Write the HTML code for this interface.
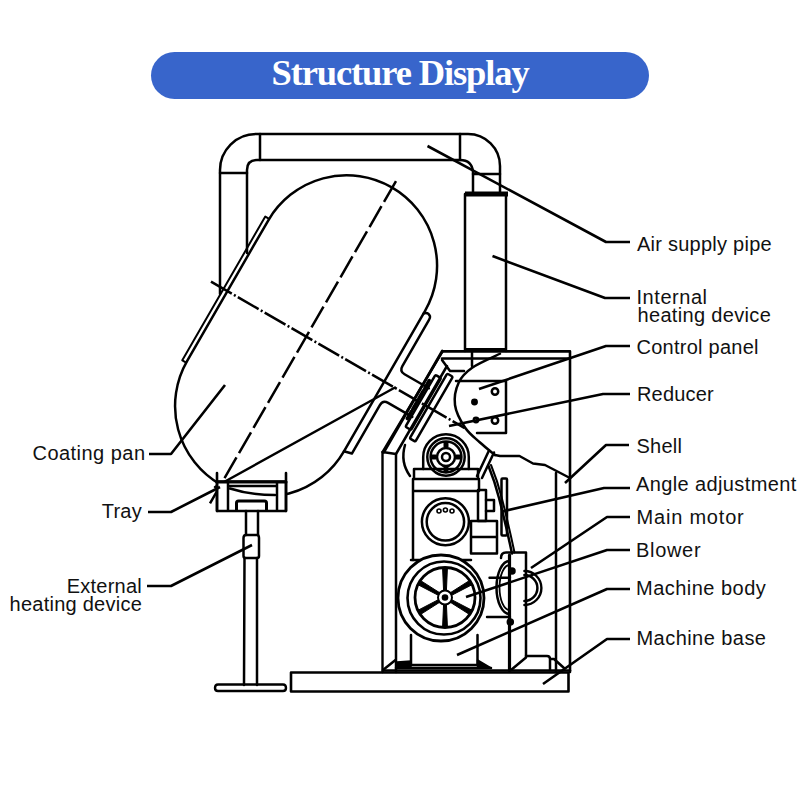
<!DOCTYPE html>
<html><head><meta charset="utf-8">
<style>
html,body{margin:0;padding:0;background:#fff;}
body{width:800px;height:800px;position:relative;overflow:hidden;}
.banner{position:absolute;left:151px;top:52px;width:498px;height:47px;border-radius:23.5px;background:#3865cb;}
.title{position:absolute;left:0;top:48.5px;width:800px;height:47px;line-height:47px;text-align:center;color:#fff;font-family:"Liberation Serif",serif;font-weight:bold;font-size:36.5px;letter-spacing:-1.12px;}
svg{position:absolute;left:0;top:0;}
</style></head>
<body>
<div class="banner"></div>
<div class="title">Structure Display</div>
<svg width="800" height="800" viewBox="0 0 800 800">
<g id="draw" stroke="#000" stroke-width="2.5" fill="none" stroke-linejoin="round" stroke-linecap="round">
<!-- air pipe frame -->
<path d="M220,294 L220,170 A36,36 0 0 1 256,134 L468,134 A32,32 0 0 1 500,166 L500,193"/>
<path d="M247,253 L247,170 Q247,160 257,160 L460,160 Q472,160 473,172 L473,193"/>
<path d="M260,134 L260,160 M460,134 L460,160 M220,173 L247,173 M473,174 L500,174"/>
<!-- heater tube -->
<path d="M465,194 L465,351 M506,194 L506,351"/>
<path d="M465,194 L508,194" stroke-width="5" stroke-linecap="butt"/>
<path d="M464,350 L507,350" stroke-width="4" stroke-linecap="butt"/>
<!-- coating pan (local rotated frame) -->
<g transform="translate(347,266) rotate(30)">
<path d="M-91,162 L-91,0 A90.5,90.5 0 0 1 90,0 L90,162 A90.5,90.5 0 0 1 -91,162"/>
<path d="M-92,-2 L-95.5,-2 L-95.5,164 L-92,164" stroke-width="2"/>
<path d="M90,3 Q93,-1 97,2 Q98,3 98,6 L98,59 Q98,65 104,65 L132,65"/>
<path d="M132,98 L104,98 Q98,98 98,104 L98,160 L90,162"/>
<path d="M0,-98 L0,275" stroke-dasharray="24,5" stroke-linecap="butt"/>
<path d="M-110,81.5 L183,81.5" stroke-dasharray="24,2.5,2,2.5" stroke-linecap="butt"/>
</g>
<!-- long line pan bottom to T -->
<path d="M215,487 L395,387.5"/>
<!-- tray -->
<path d="M217,481.5 L286,481.5 L286,511 L217,511 Z" fill="#fff"/>
<path d="M217,473 L217,511 M286,473 L286,511" stroke-width="2.6"/>
<path d="M217,482 L286,482" stroke-width="3"/>
<path d="M228,483 L228,510 M277,483 L277,510 M228,486 L277,486"/>
<path d="M230,488.5 Q250,495 275,495"/>
<path d="M236.5,510 L236.5,503 Q236.5,501 238.5,501 L264.5,501 Q266.5,501 266.5,503 L266.5,510" stroke-width="3"/>
<!-- stand -->
<path d="M246,511 L246,535 M258,511 L258,535"/>
<path d="M246,535 Q243.5,535 243.5,538 L243.5,556 Q243.5,558 246,558 L257,558 Q259,558 259,556 L259,538 Q259,535 257,535 Z"/>
<path d="M244.5,558 L244,685 M257,558 L257,685"/>
<path d="M218,684.5 L283,684.5 Q286,684.5 286,688 Q286,691 283,691 L218,691 Q215,691 215,688 Q215,684.5 218,684.5 Z" stroke-width="2.4"/>
<!-- base -->
<path d="M291,672.5 L568.5,672.5 L568.5,691.5 L291,691.5 Z" stroke-width="2.6"/>
<!-- shell -->
<path d="M442.6,351.4 L570,351.4 L570,672" stroke-width="2.6"/>
<path d="M442.6,351.4 L382.5,452 L382.5,672" stroke-width="2.4"/>
<path d="M383,670 L395.5,660"/>
<path d="M447,366 L396,454 L396,672"/>
<path d="M382.5,452 L396,454"/>
<path d="M442,358.5 L570,358.5"/>
<path d="M472,352 L472,366"/>
<path d="M442,360 L450,371 L464,371"/>
<path d="M556,473 L556,672"/>
<!-- machine internals -->
<g transform="translate(347,266) rotate(30)">
<path d="M125,26 L125,143" stroke-width="2.8"/>
<path d="M128.5,58 L128.5,102" stroke-width="3.5" stroke-dasharray="9,3"/>
<rect x="131" y="50" width="6.5" height="60" rx="1.5"/>
<rect x="140.5" y="43" width="6.5" height="75" rx="1.5"/>
</g>
<!-- reducer housing -->
<path d="M500,353.75 C495.4,356.0 479.4,362.7 472.5,367.5 C465.6,372.3 461.7,376.2 458.75,382.5 C455.8,388.8 454.0,397.5 455,405 C456.0,412.5 460.8,421.2 465,427.5 C469.2,433.8 475.0,437.9 480,442.5 C485.0,447.1 492.5,452.9 495,455"/>
<path d="M456,381 L506,381 L506,433 L477,433"/>
<circle cx="495" cy="391.5" r="3.2"/>
<circle cx="495" cy="420.5" r="3.2"/>
<circle cx="474.5" cy="402" r="2.2" fill="#000"/>
<circle cx="476" cy="420" r="2.2"/>
<path d="M495,455 L500,456 L519.5,456 L533,463.5 L545,465 L569,477.5"/>
<!-- worm gear -->
<path d="M405,445 Q400,462 410,476"/>
<path d="M423.2,469 L423.2,457 A22.8,22.8 0 0 1 468.8,457 L468.8,469"/>
<path d="M414,469 L478,469 L478,479 L414,479 Z"/>
<circle cx="446" cy="457" r="18.7"/>
<circle cx="446" cy="457" r="15.4"/>
<circle cx="446" cy="457" r="9"/>
<circle cx="446" cy="457" r="4"/>
<path d="M455.5,457.0 L461.0,457.0 M446.0,466.5 L446.0,472.0 M436.5,457.0 L431.0,457.0 M446.0,447.5 L446.0,442.0" stroke-width="5" stroke-linecap="butt"/>
<!-- motor -->
<path d="M413,479 L413,560 M479,479 L479,491 M413,491 L479,491"/>
<circle cx="445.4" cy="521.8" r="23.5"/>
<circle cx="445.4" cy="521.8" r="18.7"/>
<circle cx="439" cy="511" r="2" stroke-width="1.6"/>
<circle cx="445.4" cy="510" r="2" stroke-width="1.6"/>
<circle cx="452" cy="511" r="2" stroke-width="1.6"/>
<path d="M478,490 L486,490 L486,521 L478,521 Z"/>
<path d="M486,500 L494,500 L494,511 L486,511"/>
<rect x="501.5" y="478.5" width="5.5" height="57" rx="1"/>
<path d="M471,521 L497,521 L497,553.5 L471,553.5 Z M471,537 L497,537"/>
<path d="M488.5,466 Q495,482 499,498 Q506,525 512,553.5"/>
<path d="M491,465 Q497.5,481 501.5,497 Q508.5,524 514.5,552.5" stroke-width="2"/>
<path d="M489,450.5 L477,476 M494,452.5 L482,478"/>
<!-- motor upper lines -->
<path d="M411,560 L471,560 M413,570 L470,570"/>
<!-- blower wheel -->
<circle cx="441" cy="598" r="43" stroke-width="2.8" fill="#fff"/>
<circle cx="444" cy="598" r="36.5" stroke-width="2.6"/>
<circle cx="445" cy="597.5" r="30" stroke-width="2.8"/>
<path d="M446.4,591.0 L447.4,568.5 L442.6,568.5 L443.6,591.0 Z M451.3,595.5 L471.3,585.1 L468.9,580.9 L449.9,593.0 Z M449.9,602.0 L468.9,614.1 L471.3,609.9 L451.3,599.5 Z M443.6,604.0 L442.6,626.5 L447.4,626.5 L446.4,604.0 Z M438.7,599.5 L418.7,609.9 L421.1,614.1 L440.1,602.0 Z M440.1,593.0 L421.1,580.9 L418.7,585.1 L438.7,595.5 Z" fill="#000" stroke-width="1"/>
<circle cx="445" cy="597.5" r="7" stroke-width="2" fill="#fff"/>
<circle cx="445" cy="597.5" r="3.3" fill="#000" stroke="none"/>
<!-- motor lower block and feet -->
<path d="M411,635 L411,665 M477.5,635 L477.5,665 M411,665 L477.5,665"/>
<path d="M397,668 L397,662 L411,661 L411,668 Z M477.5,660 L491,668 L477.5,668 Z" fill="#000" stroke-width="1.5"/><path d="M396,668 L491,668"/>
<!-- right plate and blower housing -->
<path d="M524.4,571 A17,17 0 0 1 524.4,605" stroke-width="2.4"/>
<path d="M524.4,575 A13,13 0 0 1 524.4,601"/>
<path d="M509.5,561 A13,26.5 0 0 0 509.5,614"/>
<path d="M509.5,565 A10,22.5 0 0 0 509.5,610" stroke-width="1.8"/>
<path d="M501,558 Q501,552.5 506,552.5 L526,552.5 L526,657.5 L511,670"/>
<path d="M509.5,555 L509.5,670.6" stroke-width="3.2"/>
<path d="M489.5,577.8 L510,577.8 M487,617 L510,617" stroke-width="2.4"/>
<circle cx="512" cy="571" r="2.5" fill="#000"/>
<circle cx="510.3" cy="622" r="2.5" fill="#000"/>
<path d="M526,656 L547,656 Q550,656 550,659 L550,670 M550,659 L554,659 L564,668"/>
<path d="M383,670.5 L570,670.5"/>
</g>
<g id="leaders" stroke="#000" stroke-width="2.6" fill="none" stroke-linejoin="round" stroke-linecap="butt">
<polyline points="630,242 606,242 427.5,146"/>
<polyline points="630,298 605,298 492.5,256"/>
<polyline points="630,346 606,346 479,389"/>
<polyline points="630,394 603,394 449,426"/>
<polyline points="629,445 606,445 565,483"/>
<polyline points="630,488 604,488 502,511.5"/>
<polyline points="630,517 607,517 531,568"/>
<polyline points="630,550 607,550 466,597"/>
<polyline points="630,589 607,589 457,655"/>
<polyline points="630,639 607,639 543,684"/>
<polyline points="149,454 171,454 225,385"/>
<polyline points="148,512 171,512 220,487"/>
<polyline points="147,586 171,586 252,545"/>
</g>
<g font-family="Liberation Sans, sans-serif" font-size="20" letter-spacing="0.25" fill="#111">
<text x="637" y="250.5">Air supply pipe</text>
<text x="636.5" y="303.5" letter-spacing="0.55">Internal</text>
<text x="637.5" y="321.5" letter-spacing="0.33">heating device</text>
<text x="636.5" y="353.5">Control panel</text>
<text x="637" y="400.5" letter-spacing="0.17">Reducer</text>
<text x="636.5" y="453">Shell</text>
<text x="636" y="491" letter-spacing="0.38">Angle adjustment</text>
<text x="636.5" y="524" letter-spacing="0.8">Main motor</text>
<text x="636" y="557" letter-spacing="0.69">Blower</text>
<text x="636" y="594.5" letter-spacing="0.48">Machine body</text>
<text x="636.5" y="645" letter-spacing="0.45">Machine base</text>
<text x="145.5" y="460" letter-spacing="0.47" text-anchor="end">Coating pan</text>
<text x="142" y="517.5" text-anchor="end">Tray</text>
<text x="142" y="592.5" text-anchor="end">External</text>
<text x="142" y="611" text-anchor="end">heating device</text>
</g>
</svg>
</body></html>
